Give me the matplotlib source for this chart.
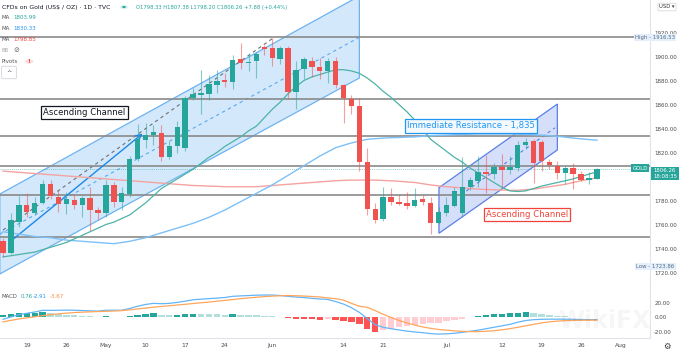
import matplotlib
matplotlib.use('Agg')
import matplotlib.pyplot as plt
from matplotlib.patches import Polygon, Circle, FancyBboxPatch

# daily candles, Apr 14 .. Jul 28 (one entry per weekday)
opens = [1746.5, 1736.6, 1762.0, 1776.0, 1770.0, 1778.3, 1794.0, 1783.0, 1777.0, 1780.7,
         1776.6, 1782.0, 1772.5, 1769.2, 1792.6, 1778.8, 1785.7, 1814.6, 1830.3, 1834.7,
         1836.6, 1816.0, 1825.6, 1824.0, 1865.5, 1868.0, 1869.0, 1876.6, 1880.7, 1879.0,
         1897.8, 1894.5, 1896.0, 1908.3, 1907.0, 1898.0, 1907.0, 1870.5, 1890.0, 1896.0,
         1891.0, 1887.6, 1896.0, 1876.6, 1865.0, 1858.7, 1811.8, 1773.3, 1764.2, 1782.9,
         1778.5, 1778.2, 1775.5, 1781.5, 1778.2, 1761.4, 1769.7, 1775.8, 1770.0, 1791.2,
         1796.0, 1804.0, 1802.2, 1808.0, 1805.8, 1807.0, 1826.4, 1830.0, 1828.4, 1812.4,
         1809.0, 1803.0, 1806.9, 1801.7, 1797.5, 1798.33]
highs = [1749.0, 1769.5, 1784.0, 1786.0, 1783.0, 1797.3, 1797.3, 1788.4, 1787.0, 1785.6,
         1784.0, 1791.0, 1774.6, 1796.7, 1795.3, 1791.0, 1817.4, 1844.0, 1845.0, 1843.0,
         1843.0, 1829.8, 1846.0, 1867.0, 1874.0, 1889.0, 1885.0, 1889.0, 1886.0, 1901.0,
         1911.0, 1903.0, 1903.5, 1910.0, 1915.7, 1909.0, 1909.0, 1896.0, 1900.0, 1900.0,
         1899.0, 1899.0, 1900.0, 1877.0, 1868.0, 1865.5, 1824.0, 1777.7, 1791.0, 1790.6,
         1785.0, 1787.0, 1790.6, 1785.0, 1783.0, 1774.6, 1783.0, 1791.0, 1816.0, 1800.0,
         1817.0, 1818.0, 1811.0, 1819.0, 1817.4, 1830.0, 1832.5, 1831.0, 1830.6, 1814.6,
         1813.0, 1809.0, 1811.0, 1805.0, 1803.6, 1807.38]
lows = [1733.0, 1735.4, 1758.0, 1766.4, 1768.0, 1777.4, 1781.0, 1770.5, 1769.0, 1773.3,
        1766.0, 1755.0, 1764.0, 1766.4, 1774.6, 1771.7, 1783.0, 1813.0, 1824.0, 1826.0,
        1813.0, 1814.6, 1820.0, 1821.0, 1864.0, 1852.0, 1864.0, 1870.0, 1875.0, 1873.0,
        1890.0, 1887.6, 1882.0, 1901.0, 1891.7, 1893.6, 1865.5, 1856.0, 1881.0, 1883.0,
        1881.0, 1878.0, 1874.0, 1845.0, 1852.0, 1805.0, 1768.0, 1761.0, 1763.0, 1776.0,
        1776.0, 1773.0, 1774.6, 1776.0, 1752.0, 1760.8, 1767.0, 1774.6, 1766.0, 1789.0,
        1791.0, 1786.0, 1798.0, 1791.0, 1802.2, 1805.0, 1823.0, 1795.0, 1805.0, 1806.3,
        1798.0, 1794.0, 1790.0, 1796.0, 1794.0, 1798.20]
closes = [1736.6, 1763.6, 1776.0, 1770.5, 1778.3, 1794.0, 1783.5, 1777.4, 1781.6, 1776.6,
          1782.0, 1772.0, 1769.2, 1792.6, 1778.8, 1786.0, 1814.6, 1831.0, 1834.7, 1836.7,
          1816.0, 1825.6, 1841.3, 1865.5, 1868.8, 1869.3, 1877.0, 1880.0, 1878.8, 1897.0,
          1894.5, 1895.5, 1902.0, 1906.4, 1899.0, 1907.0, 1870.5, 1889.0, 1898.0, 1891.0,
          1888.0, 1896.0, 1876.0, 1865.5, 1858.7, 1811.8, 1773.3, 1763.6, 1782.9, 1778.8,
          1777.4, 1775.5, 1780.7, 1778.5, 1761.4, 1770.5, 1776.6, 1788.0, 1791.2, 1796.7,
          1804.0, 1802.0, 1807.7, 1805.8, 1807.7, 1826.4, 1829.0, 1811.0, 1812.6, 1809.9,
          1803.0, 1806.9, 1801.7, 1797.3, 1798.6, 1806.26]

ma_teal = [1733, 1734, 1735, 1736, 1737, 1739, 1741, 1743, 1745, 1748,
           1751, 1754, 1757, 1760, 1762, 1765, 1768, 1773, 1778, 1784,
           1790, 1794, 1798, 1802, 1806, 1811, 1816, 1820, 1825, 1829,
           1833, 1838, 1842, 1849, 1856, 1862, 1869, 1875, 1880, 1883,
           1885, 1887, 1889, 1889, 1888, 1886, 1882, 1877, 1871, 1866,
           1860, 1854, 1847, 1839, 1831, 1826, 1821, 1816, 1812, 1807,
           1803, 1799, 1795, 1791, 1788, 1787.5, 1788, 1790, 1792, 1793.5,
           1795, 1796.5, 1798, 1800, 1802, 1803.99]
ma_blue = [1754, 1753, 1752, 1751, 1750, 1749.5, 1749, 1748, 1747, 1746.5,
           1746, 1745.5, 1745, 1744.5, 1744, 1745, 1746, 1747.5, 1749, 1751,
           1753, 1755, 1757, 1759, 1761, 1763.5, 1766, 1769, 1772, 1775.5,
           1779, 1782.5, 1786, 1789.5, 1793, 1797, 1801, 1805, 1809, 1813,
           1817, 1820.5, 1824, 1826, 1828, 1829.5, 1831, 1831.5, 1832, 1832.3,
           1832.5, 1832.8, 1833, 1833.5, 1834, 1834.3, 1834.5, 1834.8, 1835, 1835.3,
           1835.5, 1835.5, 1835.5, 1835.5, 1835.5, 1835.3, 1835, 1834.8, 1834.5, 1834,
           1833.5, 1832.8, 1832, 1831.4, 1830.8, 1830.33]
ma_red = [1804.5, 1804, 1803.5, 1803, 1802.5, 1802, 1801.5, 1801, 1800.5, 1800,
          1799.5, 1799, 1798.5, 1798, 1797.5, 1797, 1796.5, 1796, 1795.5, 1795,
          1794.5, 1794, 1793.5, 1793, 1792.5, 1792.3, 1792, 1791.8, 1791.5, 1791.5,
          1791.5, 1791.5, 1791.5, 1792, 1792.5, 1793, 1793.5, 1794, 1794.5, 1795,
          1795.5, 1796, 1796.5, 1796.8, 1797, 1797, 1797, 1797, 1796.7, 1796.4,
          1796, 1795.5, 1795, 1794, 1793, 1792.2, 1791.5, 1791, 1790.5, 1790,
          1789.5, 1789.2, 1789, 1788.7, 1788.5, 1788.5, 1789, 1789.5, 1790.5, 1791.5,
          1792.5, 1793.5, 1795, 1796.5, 1797.7, 1798.85]

macd_line = [-2.5, 0.8, 3.8, 5.8, 7.5, 10.0, 9.8, 10.0, 10.2, 10.0,
             9.6, 9.2, 8.8, 10.0, 10.0, 10.0, 12.5, 15.5, 18.0, 19.5,
             19.0, 19.5, 20.8, 22.5, 24.5, 25.3, 26.0, 26.8, 27.6, 29.2,
             29.8, 30.3, 30.8, 31.0, 31.0, 30.3, 29.2, 28.2, 27.5, 26.4,
             25.5, 25.0, 22.0, 18.5, 13.5, 7.0, -1.5, -10.0, -13.5, -15.5,
             -17.2, -18.8, -20.0, -21.0, -22.2, -23.0, -22.5, -21.8, -20.5, -19.0,
             -17.5, -15.5, -13.5, -11.5, -9.5, -6.5, -4.2, -3.0, -2.5, -2.3,
             -2.3, -2.3, -2.5, -2.8, -3.0, -2.91]
signal_line = [-6.0, -4.0, -2.0, -0.5, 1.0, 2.5, 3.8, 5.0, 6.0, 6.8,
               7.3, 7.8, 8.2, 8.5, 9.0, 9.5, 10.5, 11.8, 13.0, 14.2,
               15.2, 16.2, 17.2, 18.2, 19.3, 20.3, 21.3, 22.4, 23.6, 24.8,
               26.0, 27.0, 28.0, 28.8, 29.5, 30.0, 30.4, 30.0, 29.6, 29.0,
               28.3, 27.0, 26.0, 24.0, 19.5, 15.5, 14.0, 9.5, 4.5, 0.0,
               -4.0, -7.5, -10.5, -13.0, -15.0, -16.5, -17.5, -18.5, -19.0, -19.5,
               -19.5, -19.0, -18.3, -17.0, -15.5, -13.5, -11.5, -9.5, -7.5, -6.0,
               -5.0, -4.4, -4.0, -3.8, -3.7, -3.67]
macd_hist = [3.0, 4.8, 5.7, 6.2, 6.4, 7.6, 5.7, 4.8, 3.9, 3.4,
             2.5, 2.0, 0.7, 2.0, 0.7, 0.2, 2.0, 3.9, 5.3, 6.2,
             3.9, 3.0, 3.6, 4.5, 5.5, 5.0, 4.7, 4.4, 4.0, 4.4,
             3.8, 3.3, 2.8, 2.2, 1.5, 0.3, -1.2, -1.8, -2.1, -2.6,
             -2.8, -2.0, -4.0, -5.5, -6.0, -8.5, -15.5, -19.5, -17.5, -15.5,
             -13.0, -11.5, -10.0, -9.0, -8.0, -7.0, -5.5, -4.0, -2.5, 0.8,
             2.0, 3.4, 4.8, 5.0, 5.7, 6.7, 7.6, 6.7, 4.8, 3.4,
             2.5, 2.0, 1.1, 0.7, 0.3, 0.76]

date_ticks = [3, 8, 13, 18, 23, 28, 34, 43, 48, 56, 63, 68, 73, 78]
date_labels = ['19', '26', 'May', '10', '17', '24', 'Jun', '14', '21', 'Jul', '12', '19', '26', 'Aug']
price_ticks = [1720, 1740, 1760, 1780, 1820, 1840, 1860, 1880, 1900, 1920]
levels = [1916.5, 1865.0, 1834.0, 1809.0, 1785.0, 1750.0]

# drawing tools, anchored at (bar index, price)
channel_a = [(-0.4, 1785.4), (45.0, 1950.4), (45.0, 1882.1), (-0.4, 1718.8)]
channel_a_mid = [(-0.4, 1752.0), (45.0, 1916.0)]
trend_gray = [(0.0, 1755.4), (34.1, 1915.4)]
arrow_blue = [(0.9, 1745.7), (17.9, 1837.3)]
channel_b = [(55.05, 1790.7), (70.0, 1860.4), (70.0, 1822.1), (55.05, 1752.7)]
channel_b_mid = [(58.5, 1787.9), (69.7, 1840.6)]

GREEN = '#26A69A'
RED = '#EF5350'

fig = plt.figure(figsize=(6.8, 3.54), dpi=100)
ax = fig.add_axes([0, 71 / 354, 650 / 680, 283 / 354])
axm = fig.add_axes([0, 16 / 354, 650 / 680, 55 / 354], sharex=ax)

ax.set_xlim(-0.38, 81.7)
ax.set_ylim(1711.25, 1947.1)

# channels and lines behind the candles
ax.add_patch(Polygon(channel_a, closed=True, fc='#D3E8FB', ec='#6DB3F2', lw=0.9, zorder=1))
ax.plot(*zip(*channel_a_mid), color='#5AA9EE', lw=0.8, ls=(0, (3, 3)), zorder=2)
ax.plot(*zip(*trend_gray), color='#707070', lw=0.8, ls=(0, (3, 3)), zorder=2)
ax.annotate('', xy=arrow_blue[1], xytext=arrow_blue[0],
            arrowprops=dict(arrowstyle='->', color='#1E88E5', lw=1.0), zorder=3)
ax.add_patch(Polygon(channel_b, closed=True, fc='#D5DFFA', ec='#5B7FE8', lw=0.9, zorder=1))
ax.plot(*zip(*channel_b_mid), color='#5B7FE8', lw=0.8, ls=(0, (3, 3)), zorder=2)

for lv in levels:
    ax.axhline(lv, color='#8A8A8A', lw=1.2, zorder=2)
ax.axhline(closes[-1], color=GREEN, lw=0.7, ls=(0, (1, 1)), alpha=0.5, zorder=2)

x = list(range(len(closes)))
ax.plot(x, ma_red, color='#F4A3A0', lw=1.0, zorder=3)
ax.plot(x, ma_blue, color='#7DC0F7', lw=1.0, zorder=3)
ax.plot(x, ma_teal, color='#4DB3A6', lw=0.9, zorder=3)

for i in x:
    o, h, l, c = opens[i], highs[i], lows[i], closes[i]
    col = GREEN if c >= o else RED
    ax.vlines(i, l, h, color=col, lw=0.8, alpha=0.55, zorder=4)
    ax.bar(i, max(abs(c - o), 0.9), bottom=min(o, c), width=0.68, color=col, zorder=5)

ax.text(10.3, 1853.3, 'Ascending Channel', ha='center', va='center', fontsize=6.1,
        color='#131722', zorder=7,
        bbox=dict(boxstyle='square,pad=0.25', fc='white', ec='#131722', lw=0.9))
ax.text(59.1, 1842.1, 'Immediate Resistance - 1,835', ha='center', va='center', fontsize=6.1,
        color='#2196F3', zorder=7,
        bbox=dict(boxstyle='square,pad=0.25', fc='#F4F9FE', ec='#2196F3', lw=0.9))
ax.text(66.2, 1768.2, 'Ascending Channel', ha='center', va='center', fontsize=6.1,
        color='#F0443A', zorder=7,
        bbox=dict(boxstyle='square,pad=0.25', fc='white', ec='#F0443A', lw=0.9))

# price axis on the right
ax.yaxis.tick_right()
ax.set_yticks(price_ticks)
ax.set_yticklabels(['%.2f' % p for p in price_ticks])
ax.tick_params(axis='y', length=0, pad=3, labelsize=4.0, labelcolor='#4A4A4A')
ax.tick_params(axis='x', length=0, labelbottom=False)
for s in ['top', 'left']:
    ax.spines[s].set_visible(False)
ax.spines['right'].set_color('#E0E3EB')
ax.spines['bottom'].set_color('#E0E3EB')

# MACD panel
hist_colors = []
for i, v in enumerate(macd_hist):
    prev = macd_hist[i - 1] if i > 0 else 0
    if v >= 0:
        hist_colors.append('#26A69A' if v > prev else '#B2DFDB')
    else:
        hist_colors.append('#FF5252' if v < prev else '#FFCDD2')
axm.bar(x, macd_hist, width=0.8, color=hist_colors, zorder=2)
axm.plot(x, macd_line, color='#64B5F6', lw=0.9, zorder=3)
axm.plot(x, signal_line, color='#FFA65C', lw=0.9, zorder=3)
axm.set_ylim(-28.3, 47.6)
axm.yaxis.tick_right()
axm.set_yticks([-20, 0, 20])
axm.set_yticklabels(['-20.00', '0.00', '20.00'])
axm.tick_params(axis='y', length=0, pad=3, labelsize=4.0, labelcolor='#4A4A4A')
axm.set_xticks(date_ticks)
axm.set_xticklabels(date_labels)
axm.tick_params(axis='x', length=0, pad=3.5, labelsize=4.3, labelcolor='#4A4A4A')
for s in ['top', 'left']:
    axm.spines[s].set_visible(False)
axm.spines['right'].set_color('#E0E3EB')
axm.spines['bottom'].set_color('#E0E3EB')
axm.text(0.93, 0.3, 'WikiFX', transform=axm.transAxes, ha='center', va='center',
         fontsize=17, fontweight='bold', color='#000000', alpha=0.035)


def fx(px):
    return px / 680


def fy(py):
    return 1 - py / 354


# legend text top-left
fig.text(fx(2), fy(7), 'CFDs on Gold (US$ / OZ) · 1D · TVC', fontsize=4.4, color='#131722', va='center')
fig.add_artist(Circle((fx(124), fy(7)), 0.006, transform=fig.transFigure, fc='#DDF1EE', ec='none'))
fig.add_artist(Circle((fx(124), fy(7)), 0.0028, transform=fig.transFigure, fc=GREEN, ec='none'))
fig.text(fx(136), fy(7), 'O1798.33 H1807.38 L1798.20 C1806.26 +7.88 (+0.44%)', fontsize=3.8,
         color=GREEN, va='center')
fig.text(fx(2), fy(17.5), 'MA', fontsize=4.0, color='#555555', va='center')
fig.text(fx(13), fy(17.5), '1803.99', fontsize=4.0, color=GREEN, va='center')
fig.text(fx(2), fy(28.5), 'MA', fontsize=4.0, color='#555555', va='center')
fig.text(fx(13), fy(28.5), '1830.33', fontsize=4.0, color='#2196F3', va='center')
fig.text(fx(2), fy(39.5), 'MA', fontsize=4.0, color='#555555', va='center')
fig.text(fx(13), fy(39.5), '1798.85', fontsize=4.0, color='#F0443A', va='center')
fig.text(fx(2), fy(50.5), 'BB', fontsize=4.0, color='#AAAAAA', va='center')
fig.text(fx(13), fy(50.5), '⊘', fontsize=5.0, color='#666666', va='center')
fig.text(fx(2), fy(61.5), 'Pivots', fontsize=4.0, color='#555555', va='center')
fig.add_artist(Circle((fx(29), fy(61.5)), 0.0065, transform=fig.transFigure, fc='#FDE0DF', ec='none'))
fig.text(fx(29), fy(61.5), '!', fontsize=4.4, color='#F0443A', va='center', ha='center', fontweight='bold')
fig.add_artist(FancyBboxPatch((fx(3), fy(78)), fx(12), 11 / 354, boxstyle='round,pad=0.002',
                              transform=fig.transFigure, fc='white', ec='#D0D3DB', lw=0.6))
fig.text(fx(9), fy(72.5), '^', fontsize=4.6, color='#333333', va='center', ha='center')

# MACD legend
fig.text(fx(2), fy(297), 'MACD', fontsize=3.9, color='#555555', va='center')
fig.text(fx(21), fy(297), '0.76', fontsize=3.9, color=GREEN, va='center')
fig.text(fx(33), fy(297), '-2.91', fontsize=3.9, color='#2196F3', va='center')
fig.text(fx(50), fy(297), '-3.67', fontsize=3.9, color='#FF8A3D', va='center')

# right axis badges
fig.text(fx(667), fy(7), 'USD ▾', fontsize=3.8, color='#333333', va='center', ha='center',
         bbox=dict(boxstyle='round,pad=0.25', fc='white', ec='#D0D3DB', lw=0.5))
fig.text(fx(635), fy(37.5), 'High - 1916.53', fontsize=3.9, color='#5A6B85', va='center',
         bbox=dict(boxstyle='square,pad=0.25', fc='#E3EFFB', ec='none'))
fig.text(fx(636), fy(266.5), 'Low - 1723.86', fontsize=3.9, color='#5A6B85', va='center',
         bbox=dict(boxstyle='square,pad=0.25', fc='#E3EFFB', ec='none'))
fig.text(fx(640), fy(168), 'GOLD', fontsize=3.9, color='white', va='center', ha='center',
         bbox=dict(boxstyle='square,pad=0.2', fc=GREEN, ec='none'))
fig.text(fx(665), fy(173.5), '1806.26\n18:08:35', fontsize=3.9, color='white', va='center',
         ha='center', linespacing=1.15,
         bbox=dict(boxstyle='square,pad=0.3', fc=GREEN, ec='none'))
fig.text(fx(667), fy(346), '⚙', fontsize=6, color='#333333', va='center', ha='center')

fig.savefig('out.png', dpi=100)
